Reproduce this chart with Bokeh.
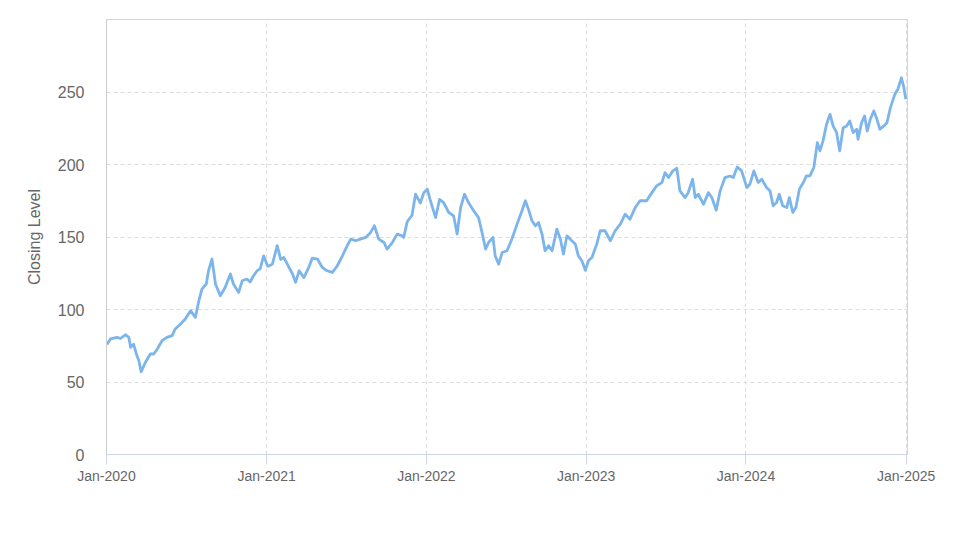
import pandas as pd
from bokeh.plotting import figure
from bokeh.models import FixedTicker, DatetimeTickFormatter, Range1d
from bokeh.embed import file_html
from bokeh.resources import INLINE

dates_2020 = ["2020-01-02", "2020-01-10", "2020-01-25", "2020-02-02", "2020-02-13", "2020-02-21",
              "2020-02-25", "2020-03-03", "2020-03-09", "2020-03-15", "2020-03-20", "2020-03-30",
              "2020-04-10", "2020-04-18", "2020-04-26", "2020-05-07", "2020-05-18", "2020-05-30",
              "2020-06-06", "2020-06-18", "2020-06-29", "2020-07-11", "2020-07-22", "2020-07-30",
              "2020-08-06", "2020-08-16", "2020-08-21", "2020-08-29", "2020-09-06", "2020-09-17",
              "2020-09-28", "2020-10-10", "2020-10-17", "2020-10-29", "2020-11-06", "2020-11-17",
              "2020-11-24", "2020-12-02", "2020-12-10", "2020-12-17", "2020-12-25"]
close_2020 = [75.8, 79.7, 80.8, 80.0, 82.6, 80.8,
              73.9, 76.0, 69.5, 64.7, 57.0, 63.6,
              69.3, 69.3, 72.8, 78.5, 80.8, 82.0,
              86.6, 90.0, 93.4, 99.2, 94.6, 106.0,
              114.0, 117.6, 126.7, 134.8, 117.6, 109.5,
              115.2, 124.5, 117.6, 111.8, 119.8, 121.0,
              119.0, 123.3, 126.7, 128.0, 137.0]

dates_2021 = ["2021-01-03", "2021-01-06", "2021-01-14", "2021-01-25", "2021-02-02", "2021-02-09",
              "2021-02-21", "2021-03-01", "2021-03-08", "2021-03-16", "2021-03-27", "2021-04-07",
              "2021-04-15", "2021-04-27", "2021-05-08", "2021-05-19", "2021-05-31", "2021-06-11",
              "2021-06-23", "2021-07-04", "2021-07-12", "2021-07-23", "2021-08-03", "2021-08-15",
              "2021-08-26", "2021-09-04", "2021-09-14", "2021-09-26", "2021-10-03", "2021-10-15",
              "2021-10-26", "2021-11-07", "2021-11-10", "2021-11-18", "2021-11-29", "2021-12-07",
              "2021-12-18", "2021-12-26"]
close_2021 = [130.0, 130.0, 131.3, 144.0, 134.5, 135.9,
              129.0, 124.5, 118.7, 126.7, 122.0, 129.0,
              135.4, 134.8, 129.0, 126.7, 125.6, 130.0,
              137.0, 144.0, 148.5, 147.4, 148.5, 149.7,
              153.0, 157.7, 148.5, 146.2, 141.7, 146.2,
              152.0, 150.8, 149.7, 160.5, 165.0, 179.5,
              173.5, 180.6]

dates_2022 = ["2022-01-03", "2022-01-10", "2022-01-22", "2022-01-31", "2022-02-09", "2022-02-21",
              "2022-03-04", "2022-03-12", "2022-03-20", "2022-03-29", "2022-04-07", "2022-04-19",
              "2022-04-30", "2022-05-08", "2022-05-16", "2022-05-23", "2022-06-02", "2022-06-07",
              "2022-06-15", "2022-06-23", "2022-07-04", "2022-07-15", "2022-07-27", "2022-08-07",
              "2022-08-15", "2022-08-22", "2022-08-30", "2022-09-07", "2022-09-14", "2022-09-22",
              "2022-09-29", "2022-10-07", "2022-10-15", "2022-10-26", "2022-11-03", "2022-11-10",
              "2022-11-18", "2022-11-29", "2022-12-07", "2022-12-14", "2022-12-22", "2022-12-30"]
close_2022 = [183.0, 175.0, 163.4, 176.0, 173.8, 166.9,
              164.6, 152.0, 170.3, 179.5, 173.8, 168.0,
              163.4, 153.0, 141.7, 146.2, 149.7, 137.0,
              131.3, 139.3, 140.5, 148.5, 158.9, 168.0,
              175.0, 169.2, 161.2, 157.7, 160.0, 152.0,
              140.5, 144.0, 140.5, 155.4, 148.5, 138.2,
              150.8, 147.4, 145.1, 137.0, 133.6, 127.0]

dates_2023 = ["2023-01-06", "2023-01-14", "2023-01-25", "2023-02-02", "2023-02-13", "2023-02-25",
              "2023-03-08", "2023-03-20", "2023-03-31", "2023-04-11", "2023-04-23", "2023-05-04",
              "2023-05-19", "2023-05-31", "2023-06-11", "2023-06-23", "2023-06-30", "2023-07-08",
              "2023-07-18", "2023-07-27", "2023-08-03", "2023-08-15", "2023-08-22", "2023-09-01",
              "2023-09-07", "2023-09-14", "2023-09-26", "2023-10-07", "2023-10-15", "2023-10-25",
              "2023-11-03", "2023-11-14", "2023-11-25", "2023-12-03", "2023-12-12", "2023-12-22"]
close_2023 = [133.6, 135.9, 145.1, 154.3, 154.3, 147.4,
              154.3, 158.9, 165.8, 162.3, 170.3, 175.0,
              175.0, 180.6, 185.3, 187.6, 194.4, 191.0,
              195.6, 197.4, 181.8, 177.2, 180.6, 189.9,
              177.2, 179.5, 172.6, 180.6, 177.2, 168.5,
              181.8, 191.0, 192.1, 191.0, 198.3, 195.6]

dates_2024 = ["2024-01-03", "2024-01-10", "2024-01-19", "2024-01-29", "2024-02-06", "2024-02-17",
              "2024-02-25", "2024-03-03", "2024-03-11", "2024-03-17", "2024-03-25", "2024-04-03",
              "2024-04-09", "2024-04-17", "2024-04-24", "2024-05-02", "2024-05-11", "2024-05-18",
              "2024-05-26", "2024-06-04", "2024-06-12", "2024-06-18", "2024-06-25", "2024-07-03",
              "2024-07-11", "2024-07-18", "2024-07-26", "2024-08-02", "2024-08-10", "2024-08-18",
              "2024-08-25", "2024-09-02", "2024-09-10", "2024-09-13", "2024-09-21", "2024-09-28",
              "2024-10-04", "2024-10-11", "2024-10-19", "2024-10-25", "2024-11-02", "2024-11-11",
              "2024-11-18", "2024-11-26", "2024-12-06", "2024-12-13", "2024-12-21", "2024-12-26",
              "2024-12-31"]
close_2024 = [184.1, 186.4, 195.6, 187.6, 189.9, 184.1,
              181.8, 171.5, 173.8, 179.5, 171.5, 170.3,
              177.2, 166.9, 170.3, 183.0, 187.6, 192.1,
              192.1, 197.9, 215.1, 209.4, 216.3, 227.7,
              234.6, 226.6, 222.0, 209.4, 225.4, 226.6,
              230.0, 222.0, 224.3, 217.4, 228.8, 233.5,
              223.1, 231.2, 236.9, 232.3, 224.3, 226.6,
              228.8, 239.2, 248.4, 251.9, 259.8, 254.1,
              245.0]

year_ticks = ["2020-01-01", "2021-01-01", "2022-01-01", "2023-01-01", "2024-01-01", "2025-01-01"]
y_ticks = [0, 50, 100, 150, 200, 250]

dates = pd.to_datetime(dates_2020 + dates_2021 + dates_2022 + dates_2023 + dates_2024)
closes = close_2020 + close_2021 + close_2022 + close_2023 + close_2024

FONT = "Liberation Sans"

x_start = pd.Timestamp("2020-01-01")
x_end = pd.Timestamp("2025-01-04")

p = figure(width=965, height=538, x_axis_type="datetime",
           output_backend="svg", toolbar_location=None,
           x_range=Range1d(x_start, x_end), y_range=Range1d(0, 300),
           min_border_left=106, min_border_right=58, min_border_top=19, min_border_bottom=84)

p.line(dates, closes, line_color="#7cb5ec", line_width=2.8, line_join="round")

p.background_fill_color = "white"
p.border_fill_color = "white"
p.outline_line_color = "#d4d4d4"
p.outline_line_width = 1

tick_ms = [pd.Timestamp(t).value / 1e6 for t in year_ticks]
p.xaxis.ticker = FixedTicker(ticks=tick_ms)
fmt = "%b-%Y"
p.xaxis.formatter = DatetimeTickFormatter(years=fmt, months=fmt, days=fmt, hours=fmt,
                                          minutes=fmt, seconds=fmt, milliseconds=fmt,
                                          microseconds=fmt, hourmin=fmt, minsec=fmt)
p.xaxis.axis_line_color = "#ccd6eb"
p.xaxis.major_tick_line_color = "#ccd6eb"
p.xaxis.major_tick_out = 10
p.xaxis.major_tick_in = 0
p.xaxis.minor_tick_line_color = None
p.xaxis.major_label_text_font = FONT
p.xaxis.major_label_text_font_size = "14px"
p.xaxis.major_label_text_color = "#666666"
p.xaxis.major_label_standoff = 3

p.yaxis.ticker = FixedTicker(ticks=y_ticks)
p.yaxis.axis_line_color = "#cccccc"
p.yaxis.major_tick_line_color = None
p.yaxis.minor_tick_line_color = None
p.yaxis.major_tick_out = 0
p.yaxis.major_tick_in = 0
p.yaxis.major_label_text_font = FONT
p.yaxis.major_label_text_font_size = "16px"
p.yaxis.major_label_text_color = "#666666"
p.yaxis.major_label_standoff = 22
p.yaxis.axis_label = "Closing Level"
p.yaxis.axis_label_text_font = FONT
p.yaxis.axis_label_text_font_size = "16px"
p.yaxis.axis_label_text_font_style = "normal"
p.yaxis.axis_label_text_color = "#666666"
p.yaxis.axis_label_standoff = 12

p.xgrid.ticker = FixedTicker(ticks=tick_ms)
p.ygrid.ticker = FixedTicker(ticks=y_ticks)
for g in (p.xgrid, p.ygrid):
    g.grid_line_color = "#dddddd"
    g.grid_line_dash = "4 3"
    g.grid_line_width = 1

open("out.html", "w").write(file_html(p, INLINE))
